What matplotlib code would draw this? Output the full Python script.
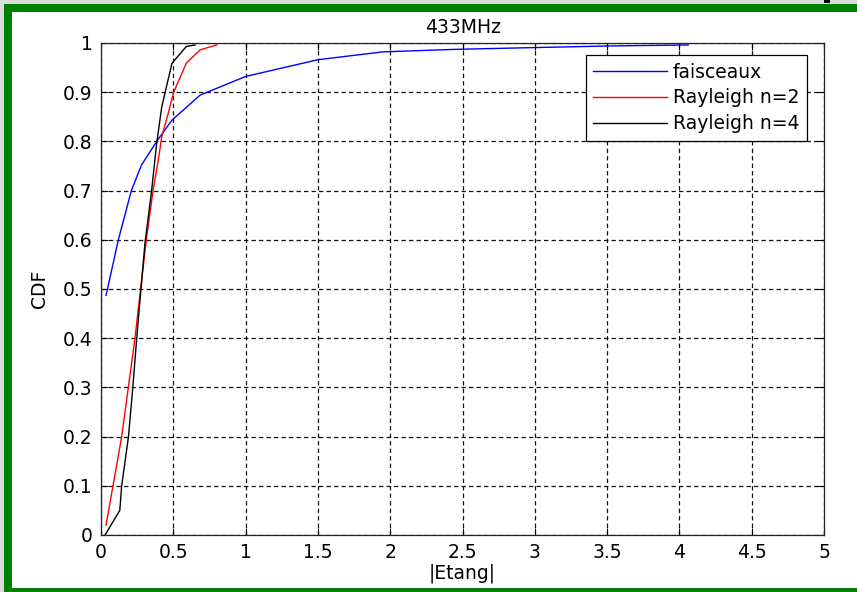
import matplotlib
matplotlib.use("Agg")
import matplotlib.pyplot as plt
from matplotlib.patches import Rectangle

# ---- data ----
faisceaux_x = [0.035, 0.12, 0.21, 0.28, 0.385, 0.49, 0.685, 1.0, 1.5, 1.95, 2.44, 2.89, 3.52, 4.06]
faisceaux_y = [0.487, 0.60, 0.70, 0.752, 0.80, 0.843, 0.894, 0.932, 0.966, 0.982, 0.987, 0.990, 0.994, 0.996]

ray2_x = [0.035, 0.143, 0.235, 0.27, 0.316, 0.36, 0.40, 0.42, 0.465, 0.50, 0.59, 0.685, 0.80]
ray2_y = [0.02, 0.20, 0.40, 0.49, 0.606, 0.70, 0.769, 0.81, 0.857, 0.898, 0.959, 0.986, 0.996]

ray4_x = [0.028, 0.13, 0.143, 0.19, 0.22, 0.247, 0.27, 0.304, 0.35, 0.385, 0.42, 0.49, 0.50, 0.59, 0.65]
ray4_y = [0.0, 0.05, 0.10, 0.20, 0.30, 0.40, 0.478, 0.593, 0.70, 0.796, 0.87, 0.958, 0.962, 0.993, 0.996]

labels = ["faisceaux", "Rayleigh n=2", "Rayleigh n=4"]
title = "433MHz"
xlabel = "|Etang|"
ylabel = "CDF"
xticks = [0, 0.5, 1, 1.5, 2, 2.5, 3, 3.5, 4, 4.5, 5]
xticklabels = ["0", "0.5", "1", "1.5", "2", "2.5", "3", "3.5", "4", "4.5", "5"]
yticks = [0, 0.1, 0.2, 0.3, 0.4, 0.5, 0.6, 0.7, 0.8, 0.9, 1]
yticklabels = ["0", "0.1", "0.2", "0.3", "0.4", "0.5", "0.6", "0.7", "0.8", "0.9", "1"]

W, H = 857, 592
FS = 13.5
plt.rcParams['font.family'] = ['DejaVu Sans']
fig = plt.figure(figsize=(W / 100, H / 100), dpi=100)
fig.patch.set_facecolor('white')

def px_rect(x0, y0, x1, y1, color):
    # rectangle in pixel coords (origin top-left)
    fig.patches.append(Rectangle((x0 / W, 1 - y1 / H), (x1 - x0) / W, (y1 - y0) / H,
                                 transform=fig.transFigure, facecolor=color,
                                 edgecolor='none', zorder=-10))

# outer grey frame and green border
px_rect(0, 0, W, 4, '#dcdcdc')
px_rect(0, 0, 4, H, '#dcdcdc')
px_rect(4, 4, W, 12, '#008000')
px_rect(4, 4, 12, H, '#008000')
px_rect(4, 588, W, H, '#008000')
px_rect(824, 0, 830, 3, 'black')

ax = fig.add_axes([101 / W, 1 - 535 / H, 723 / W, 492 / H])
ax.plot(faisceaux_x, faisceaux_y, color='blue', lw=1.0, label=labels[0])
ax.plot(ray2_x, ray2_y, color='red', lw=1.0, label=labels[1])
ax.plot(ray4_x, ray4_y, color='black', lw=1.0, label=labels[2])

ax.set_xlim(0, 5)
ax.set_ylim(0, 1)
ax.set_xticks(xticks)
ax.set_xticklabels(xticklabels)
ax.set_yticks(yticks)
ax.set_yticklabels(yticklabels)
ax.tick_params(direction='in', length=5, width=0.8, top=True, right=True,
               labelsize=FS, colors='black', pad=6)
ax.grid(True, color='#111111', linestyle=(0, (3.5, 2.5)), linewidth=0.9)
for s in ax.spines.values():
    s.set_color('#222222')
    s.set_linewidth(0.9)

ax.set_title(title, fontsize=FS, pad=7)
ax.set_xlabel(xlabel, fontsize=FS, labelpad=1)
ax.set_ylabel(ylabel, fontsize=FS, labelpad=10)

leg = ax.legend(loc='upper right', bbox_to_anchor=(1 - 17 / 723, 1 - 12 / 492),
                fontsize=FS, fancybox=False, framealpha=1, edgecolor='black',
                borderaxespad=0, handlelength=3.95, handletextpad=0.3,
                labelspacing=0.37, borderpad=0.4)
leg.get_frame().set_linewidth(0.9)

fig.savefig('out.png', dpi=100)
